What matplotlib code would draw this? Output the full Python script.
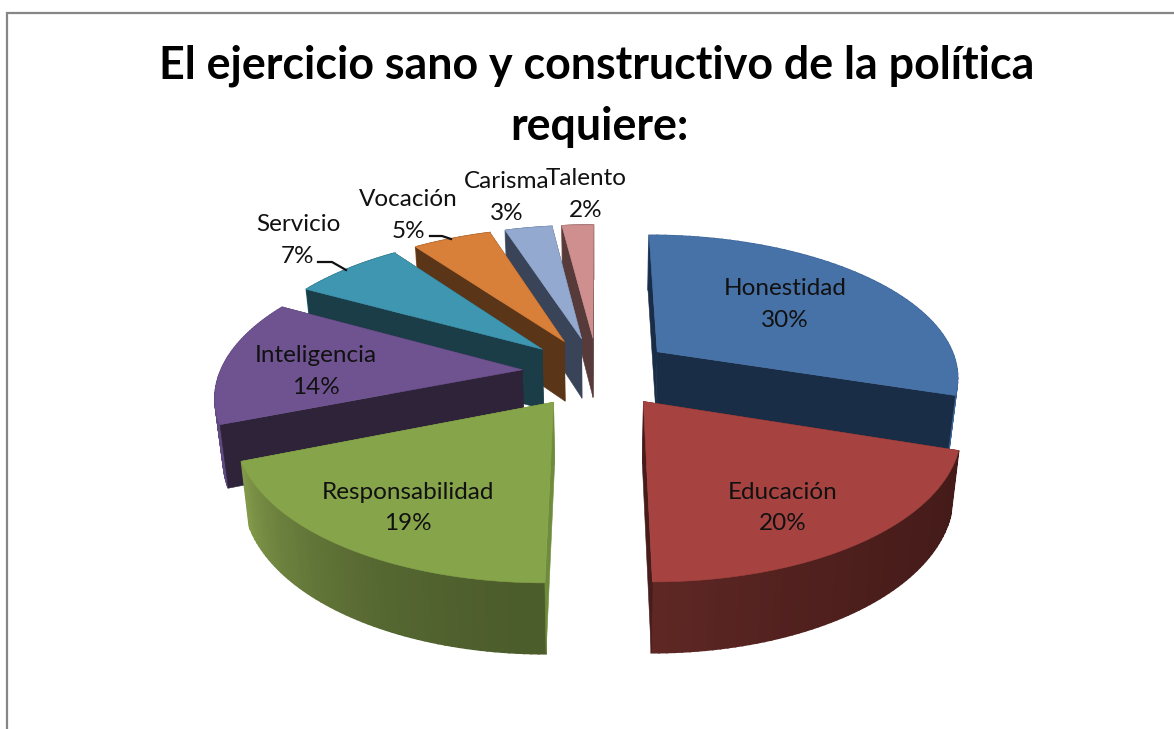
import numpy as np
import matplotlib
matplotlib.use("Agg")
import matplotlib.pyplot as plt
from matplotlib.colors import to_rgb

# ---- data ----
categories = ["Honestidad", "Educación", "Responsabilidad", "Inteligencia",
              "Servicio", "Vocación", "Carisma", "Talento"]
values = [30, 20, 19, 14, 7, 5, 3, 2]
title_lines = ["El ejercicio sano y constructivo de la política", "requiere:"]

top_colors = ["#4672A8", "#A64340", "#86A44A", "#6F5391", "#3F96B0", "#D87F3A", "#93A9CF", "#CE8F8E"]
face_colors = ["#1A2D47", "#471C1A", "#6F8C3C", "#2E2339", "#1A3D48", "#5A3517", "#3A4458", "#573A3A"]
arc_start = ["#3F6698", "#451B19", "#4C5D2C", "#5F4A80", "#2F7A90", "#B06A30", "#7A90B5", "#A87878"]
arc_end = ["#3F6698", "#5E2724", "#82994A", "#5F4A80", "#2F7A90", "#B06A30", "#7A90B5", "#A87878"]
draw_order = [7, 6, 5, 4, 3, 0, 1, 2]

label_xy = [(785, 288), (783, 492), (408, 492), (316, 355),
            (298, 224), (408, 199), (507, 181), (586, 178)]
PCT_GAP = 32

# ---- projection parameters (pixels) ----
CX, CY, A, B, P = 597.5, 372.0, 302.0, 141.0, 0.16
EXPLODE, DEPTH, BOTTOM_K = 0.25, 61.0, 0.978

LBL = "Lato"
W, H = 1174, 729


def project(X, Y, lower=False):
    s = 1.0 / (1.0 + P * Y)
    x = CX + A * X * s
    y = CY - B * Y * s
    if lower:
        x = CX + (x - CX) * BOTTOM_K
        y = y + DEPTH * s ** 0.7
    return x, y


fig = plt.figure(figsize=(W / 100, H / 100), dpi=100, facecolor="white")
ax = fig.add_axes([0, 0, 1, 1])
ax.set_xlim(0, W)
ax.set_ylim(H, 0)
ax.axis("off")

# chart frame
ax.plot([7, 7, W], [H, 13, 13], color="#868686", lw=1.6, solid_joinstyle="miter", zorder=1)

total = float(sum(values))
fractions = np.array(values) / total
edges = np.concatenate([[0], np.cumsum(fractions)]) * 2 * np.pi

z = 2
for i in draw_order:
    a0, a1 = edges[i], edges[i + 1]
    mid = (a0 + a1) / 2
    ox, oy = EXPLODE * np.sin(mid), EXPLODE * np.cos(mid)
    th = np.linspace(a0, a1, 60)
    X = ox + np.sin(th)
    Y = oy + np.cos(th)
    tx, ty = project(X, Y)
    bx, by = project(X, Y, lower=True)
    cx0, cy0 = project(ox, oy)
    cx1, cy1 = project(ox, oy, lower=True)

    # which radial cut faces the viewer
    start_visible = np.sin(a0) < 1e-6
    end_visible = -np.sin(a1) < 1e-6


    def face(k):
        ax.fill([cx0, tx[k], bx[k], cx1], [cy0, ty[k], by[k], cy1],
                color=face_colors[i], lw=0.4, zorder=z)


    if not start_visible:
        face(0)
    if not end_visible:
        face(-1)
    z += 1
    # outer rim with a gradient
    c0, c1 = np.array(to_rgb(arc_start[i])), np.array(to_rgb(arc_end[i]))
    for j in range(len(th) - 1):
        t = (j / (len(th) - 2)) ** 1.8
        col = c0 + (c1 - c0) * t
        ax.fill([tx[j], tx[j + 1], bx[j + 1], bx[j]], [ty[j], ty[j + 1], by[j + 1], by[j]],
                facecolor=col, edgecolor=col, lw=1.2, zorder=z + j * 1e-3)
    z += 1
    if start_visible:
        face(0)
    if end_visible:
        face(-1)
    z += 1
    # top surface
    ax.fill(np.r_[cx0, tx], np.r_[cy0, ty], color=top_colors[i], lw=0.4, zorder=z)
    z += 1

# leader lines
ax.plot([318, 332, 346], [262, 262, 270], color="#111111", lw=1.6, zorder=z)
ax.plot([430, 442, 451], [236, 236, 239], color="#111111", lw=1.6, zorder=z)
z += 1

# labels
for name, val, (lx, ly) in zip(categories, values, label_xy):
    ax.text(lx, ly, name, ha="center", va="center", fontsize=17.5, family=LBL, color="#111111", zorder=z)
    ax.text(lx, ly + PCT_GAP, f"{val}%", ha="center", va="center", fontsize=17.5, family=LBL, color="#111111", zorder=z)

# title
ax.text(597, 66, title_lines[0], ha="center", va="center", fontsize=32.2, family=LBL, weight="bold", color="black", zorder=z)
ax.text(599, 127, title_lines[1], ha="center", va="center", fontsize=32.2, family=LBL, weight="bold", color="black", zorder=z)

fig.savefig("out.png", dpi=100, facecolor="white")
